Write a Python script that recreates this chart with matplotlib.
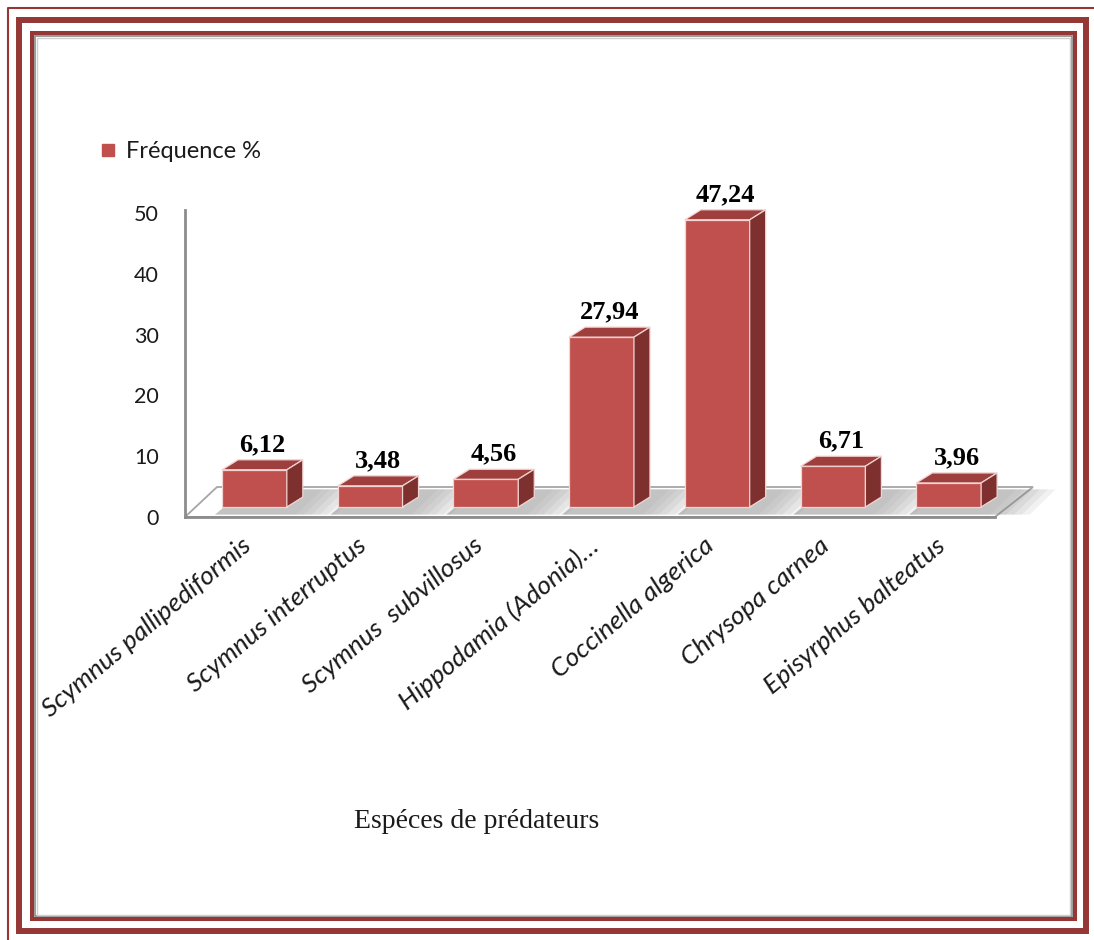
import numpy as np
import matplotlib.pyplot as plt
from matplotlib.patches import Polygon, Rectangle
from matplotlib.lines import Line2D

# Fréquence des espèces de prédateurs
especes = ['Scymnus pallipediformis', 'Scymnus interruptus', 'Scymnus  subvillosus',
           'Hippodamia (Adonia)…', 'Coccinella algerica', 'Chrysopa carnea',
           'Episyrphus balteatus']
frequence = [6.12, 3.48, 4.56, 27.94, 47.24, 6.71, 3.96]
graduations = [0, 10, 20, 30, 40, 50]
legende = 'Fréquence %'
titre_x = 'Espéces de prédateurs'

ROUGE = '#c0504d'
ROUGE_HAUT = '#9e3f3d'
ROUGE_COTE = '#7d302e'
CADRE = '#953735'

plt.rcParams['font.family'] = ['Lato', 'DejaVu Sans']

W, H = 1094, 940
fig = plt.figure(figsize=(W / 100, H / 100), dpi=100)


def fx(px):
    return px / W


def fy(py):
    return 1 - py / H


# page frame (thin line top/left, thick band, inner band, grey chart border)
fig.add_artist(Line2D([fx(7.5), fx(7.5), 1], [0, fy(7.5), fy(7.5)],
                      transform=fig.transFigure, color=CADRE, lw=1.5))
fig.add_artist(Rectangle((fx(19), fy(930.5)), fx(1086) - fx(19), fy(20) - fy(930.5),
                         transform=fig.transFigure, fill=False, ec=CADRE, lw=4.3))
fig.add_artist(Rectangle((fx(32), fy(919)), fx(1075) - fx(32), fy(33) - fy(919),
                         transform=fig.transFigure, fill=False, ec=CADRE, lw=2.9))
fig.add_artist(Rectangle((fx(35), fy(916)), fx(1071.5) - fx(35), fy(36) - fy(916),
                         transform=fig.transFigure, fill=False, ec='#8a8a8a', lw=1.2))
fig.add_artist(Rectangle((fx(36.5), fy(914.5)), fx(1070) - fx(36.5), fy(37.5) - fy(914.5),
                         transform=fig.transFigure, fill=False, ec='#cfcfcf', lw=1.0))

ax = fig.add_axes([fx(185), fy(517), fx(995) - fx(185), fy(213) - fy(517)])
ax.set_xlim(-0.6, 6.40)
ax.set_ylim(0, 50)

ux = (995 - 185) / 7.0     # px per category
uy = (517 - 213) / 50.0    # px per unit of value

x = np.arange(len(especes))
larg = 0.56
ddx, ddy = 16 / ux, 10 / uy          # bar depth
base = 10 / uy                       # bars stand in the middle of the floor
prof = 30 / uy                       # floor depth

# floor
sol = Polygon([(-0.6, 0), (6.40, 0), (6.40 + 38 / ux, prof), (-0.6 + 32 / ux, prof)],
              closed=True, fc='white', ec='#a6a6a6', lw=1.3, zorder=1, clip_on=False)
ax.add_patch(sol)
ax.plot([-0.6, 6.40], [0, 0], color='#8c8c8c', lw=2, zorder=2, clip_on=False)

# soft shadows on the floor, to the right of each bar
for xi in x:
    xr = xi + larg / 2
    for k, a in zip(np.linspace(0.42, 0.08, 6), [0.10, 0.10, 0.10, 0.10, 0.08, 0.08]):
        ombre = Polygon([(xi - larg / 2 - 0.06, 0.4), (xr + k, 0.4),
                         (xr + k + 26 / ux, prof - 0.4), (xi - larg / 2 + 0.2, prof - 0.4)],
                        closed=True, fc='#7f7f7f', ec='none', alpha=a, zorder=2,
                        clip_on=False)
        ax.add_patch(ombre)
        ombre.set_clip_path(sol)

barres = ax.bar(x, frequence, width=larg, bottom=base, color=ROUGE,
                edgecolor='#f2d4d3', lw=0.9, zorder=4, label=legende)

for xi, v in zip(x, frequence):
    g, d, h = xi - larg / 2, xi + larg / 2, base + v
    ax.add_patch(Polygon([(g, h), (d, h), (d + ddx, h + ddy), (g + ddx, h + ddy)],
                         closed=True, fc=ROUGE_HAUT, ec='#f2d4d3', lw=0.9, zorder=4,
                         clip_on=False))
    ax.add_patch(Polygon([(d, base), (d + ddx, base + ddy), (d + ddx, h + ddy), (d, h)],
                         closed=True, fc=ROUGE_COTE, ec='#f2d4d3', lw=0.9, zorder=4,
                         clip_on=False))
    ax.text(xi + ddx / 2, h + ddy + 0.6, f'{v:.2f}'.replace('.', ','),
            ha='center', va='bottom', family='Liberation Serif', weight='bold',
            fontsize=19, zorder=5)

for s in ['top', 'right', 'bottom']:
    ax.spines[s].set_visible(False)
ax.spines['left'].set_color('#8c8c8c')
ax.spines['left'].set_linewidth(2)
ax.spines['left'].set_bounds(0, 50.5)
ax.patch.set_alpha(0)

ax.set_yticks(graduations)
ax.tick_params(axis='y', length=0, pad=19, labelsize=15.5, labelcolor='#1a1a1a')
ax.set_xticks(x - 0.12)
ax.set_xticklabels(especes, rotation=40, ha='right', va='top', rotation_mode='anchor',
                   style='italic', fontsize=19, color='#1a1a1a')
ax.tick_params(axis='x', length=0, pad=12)

fig.text(fx(477), fy(822), titre_x, family='Liberation Serif', fontsize=20,
         ha='center', va='center', color='#1a1a1a')

poignee = Line2D([], [], marker='s', ls='', color=ROUGE, markersize=9)
fig.legend(handles=[poignee], labels=[legende], loc='center left',
           bbox_to_anchor=(fx(75), fy(152)), frameon=False, fontsize=17,
           handletextpad=0.25, handlelength=1.0, labelcolor='#1a1a1a')

fig.savefig('out.png', dpi=100)
